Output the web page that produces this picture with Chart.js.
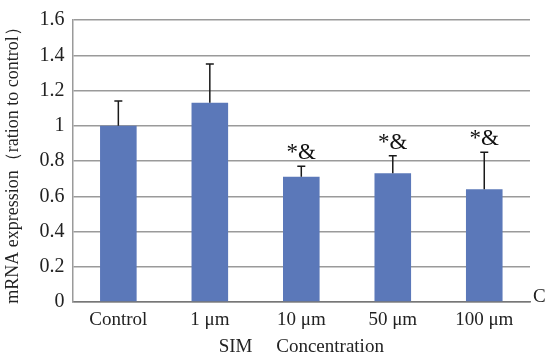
<!DOCTYPE html>
<html>
<head>
<meta charset="utf-8">
<script src="https://cdn.jsdelivr.net/npm/chart.js@4/dist/chart.umd.min.js"></script>
<style>
  html, body { margin: 0; padding: 0; background: #fff; }
  #wrap { width: 546px; height: 357px; }
</style>
</head>
<body>
<div id="wrap"><canvas id="c" width="546" height="357"></canvas></div>
<script>
// SIM concentration groups and relative mRNA expression
const categories = ['Control', '1 \u03bcm', '10 \u03bcm', '50 \u03bcm', '100 \u03bcm'];
const expression = [1.0, 1.13, 0.71, 0.73, 0.64];
const errorUpper = [0.14, 0.22, 0.06, 0.10, 0.21];
const significance = ['', '', '*&', '*&', '*&'];
const yTicks = [0, 0.2, 0.4, 0.6, 0.8, 1, 1.2, 1.4, 1.6];

const serif = "'Liberation Serif', 'DejaVu Serif', serif";

// One-sided error bars with caps, plus significance marks above them
const errorBarPlugin = {
  id: 'errorBars',
  afterDatasetsDraw(chart) {
    const ctx = chart.ctx;
    const yScale = chart.scales.y;
    const meta = chart.getDatasetMeta(0);
    ctx.save();
    ctx.strokeStyle = '#1a1a1a';
    ctx.lineWidth = 1.5;
    meta.data.forEach((bar, i) => {
      const v = expression[i];
      const yTop = yScale.getPixelForValue(v + errorUpper[i]);
      const yBase = yScale.getPixelForValue(v);
      ctx.beginPath();
      ctx.moveTo(bar.x, yBase);
      ctx.lineTo(bar.x, yTop);
      ctx.moveTo(bar.x - 4, yTop);
      ctx.lineTo(bar.x + 4, yTop);
      ctx.stroke();
      if (significance[i]) {
        ctx.fillStyle = '#111';
        ctx.font = '23px ' + serif;
        ctx.textAlign = 'center';
        ctx.textBaseline = 'alphabetic';
        ctx.fillText(significance[i], bar.x, yTop - 7);
      }
    });
    // axis end letter at the right of the category axis
    const xScale = chart.scales.x;
    ctx.fillStyle = '#222';
    ctx.font = '19px ' + serif;
    ctx.textAlign = 'left';
    ctx.textBaseline = 'middle';
    ctx.fillText('C', xScale.right + 3, yScale.getPixelForValue(0) - 5);
    ctx.restore();
  }
};

new Chart(document.getElementById('c'), {
  type: 'bar',
  data: {
    labels: categories,
    datasets: [{
      data: expression,
      backgroundColor: '#5b78b9',
      borderWidth: 0,
      barPercentage: 0.4,
      categoryPercentage: 1.0
    }]
  },
  options: {
    responsive: false,
    animation: false,
    layout: { padding: { top: 8, right: 16, bottom: 0, left: 2 } },
    plugins: {
      legend: { display: false },
      tooltip: { enabled: false }
    },
    scales: {
      x: {
        afterFit(axis) { axis.height = 55; },
        grid: { display: false, drawTicks: false },
        border: { display: true, color: '#777', width: 1.5 },
        ticks: {
          color: '#222',
          font: { family: serif, size: 19, lineHeight: 1 },
          padding: 9
        },
        title: {
          display: true,
          text: 'SIM     Concentration',
          color: '#222',
          font: { family: serif, size: 19, lineHeight: 1 },
          padding: { top: 4, bottom: 0 }
        }
      },
      y: {
        min: 0,
        max: 1.6,
        afterBuildTicks(axis) {
          axis.ticks = yTicks.map(v => ({ value: v }));
        },
        grid: { color: '#9a9a9a', lineWidth: 1.5, drawTicks: false },
        border: { display: true, color: '#9a9a9a', width: 1.5 },
        ticks: {
          color: '#222',
          font: { family: serif, size: 20 },
          padding: 8,
          callback: v => (Number.isInteger(v) ? String(v) : v.toFixed(1))
        },
        title: {
          display: true,
          text: 'mRNA expression\uFF08ration to control\uFF09',
          color: '#222',
          font: { family: serif, size: 18 },
          padding: { top: 0, bottom: 8 }
        }
      }
    }
  },
  plugins: [errorBarPlugin]
});
</script>
</body>
</html>
